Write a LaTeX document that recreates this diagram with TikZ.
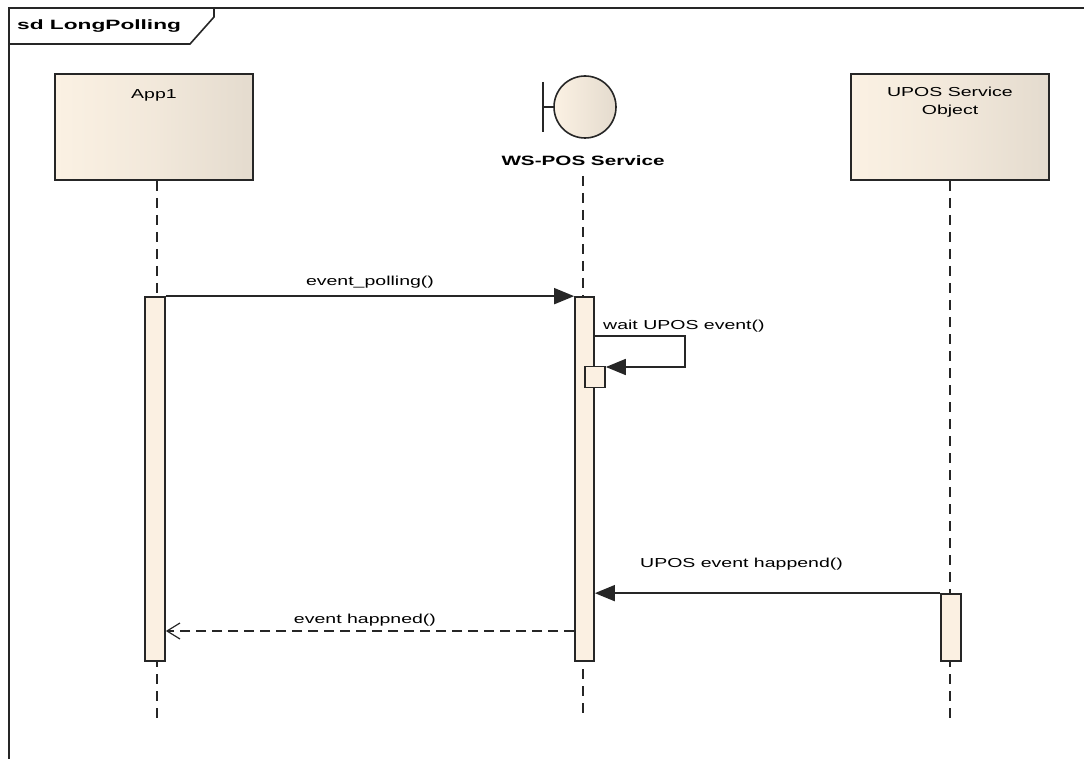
\documentclass[tikz,border=0pt]{standalone}
\usepackage{fontspec}
\setmainfont{Liberation Sans}
\newfontfamily\msgfont[FakeStretch=1.5]{Liberation Sans}
\newfontfamily\ttlfont[FakeStretch=1.68]{Liberation Sans}
\newfontfamily\wsfont[FakeStretch=1.53]{Liberation Sans}
\usetikzlibrary{arrows.meta}
\definecolor{creamL}{HTML}{FBF1E3}
\definecolor{creamR}{HTML}{E4DBCE}
\definecolor{actfill}{HTML}{FBF0E2}
\tikzset{
  lifebox/.style={draw=black!85, line width=2pt, left color=creamL, right color=creamR, middle color=creamL!60!creamR, minimum width=198pt, minimum height=106pt, inner sep=0pt},
  lifeline/.style={draw=black!85, line width=1.6pt, dash pattern=on 10pt off 7pt},
  actbox/.style={draw=black!85, line width=1.7pt, fill=actfill},
  msg/.style={draw=black!85, line width=1.7pt, -{Triangle[length=20pt,width=16pt]}},
  reply/.style={draw=black!85, line width=1.7pt, dash pattern=on 10pt off 6pt, -{Straight Barb[length=13pt,width=16pt,line width=1.2pt]}},
  lbl/.style={font=\msgfont\fontsize{13}{18}\selectfont, inner sep=0pt},
  ttl/.style={font=\ttlfont\bfseries\fontsize{13.5}{15}\selectfont, inner sep=0pt},
  wsl/.style={font=\wsfont\bfseries\fontsize{13.5}{15}\selectfont, inner sep=0pt},
}
\begin{document}
\begin{tikzpicture}[x=1pt,y=-1pt]
\useasboundingbox (0,0) rectangle (1084,759);
% frame
\draw[line width=2pt, black!85] (9,759) -- (9,8) -- (1084,8);
\draw[line width=1.6pt, black!85] (9,44) -- (190,44) -- (214,17) -- (214,8);
\node[ttl, anchor=west] (title) at (17,26) {sd LongPolling};
% participants
\node[lifebox] (app) at (154,127) {};
\node[lbl, anchor=north] (appt) at (app.north |- 0,89) {App1};
\node[lifebox] (upos) at (950,127) {};
\node[lbl, anchor=north, align=center] (upost) at (upos.north |- 0,87) {UPOS Service\\Object};
% boundary
\node[circle, draw=black!85, line width=1.6pt, left color=creamL, right color=creamR, minimum size=62pt, inner sep=0pt] (ws) at (585,107) {};
\coordinate (bt) at (543,82);
\coordinate (bb) at (543,132);
\coordinate (bm) at (543,107);
\draw[line width=1.6pt, black!85] (bt) -- (bb);
\draw[line width=1.6pt, black!85] (bm) -- (ws.west);
\node[wsl, anchor=center] (wst) at (583,161) {WS-POS Service};
% lifelines
\coordinate (append) at (157,720);
\coordinate (wsend) at (583,720);
\coordinate (uposend) at (950,720);
\coordinate (wstop) at (583,176);
\draw[lifeline] (app.south -| append) -- (append);
\draw[lifeline] (wstop) -- (wsend);
\draw[lifeline] (upos.south -| uposend) -- (uposend);
% activations
\node[actbox, minimum width=20pt, minimum height=364pt, inner sep=0pt] (appact) at (155,479) {};
\node[actbox, minimum width=19pt, minimum height=364pt, inner sep=0pt] (wsact) at (584.5,479) {};
\node[actbox, minimum width=20pt, minimum height=67pt, inner sep=0pt] (uposact) at (951,627.5) {};
\node[actbox, minimum width=20pt, minimum height=21pt, inner sep=0pt] (selfact) at (595,377) {};
% messages
\draw[msg] (appact.north east) -- (wsact.north west) node[lbl, midway, above=7pt] (m1) {event\_polling()};
\coordinate (s1) at (wsact.east |- 0,336);
\coordinate (s2) at (685,336);
\coordinate (s3) at (685,367);
\draw[msg] (s1) -- (s2) -- (s3) -- (selfact.east |- s3);
\node[lbl, anchor=south west] (m2) at (603,332) {wait UPOS event()};
\coordinate (u1) at (uposact.north west);
\draw[msg] (u1) -- (wsact.east |- u1);
\node[lbl, anchor=south west] (m3) at (640,570) {UPOS event happend()};
\coordinate (r1) at (wsact.west |- 0,631);
\draw[reply] (r1) -- (appact.east |- r1);
\node[lbl, anchor=south] (m4) at (365,626) {event happned()};
\end{tikzpicture}
\end{document}
